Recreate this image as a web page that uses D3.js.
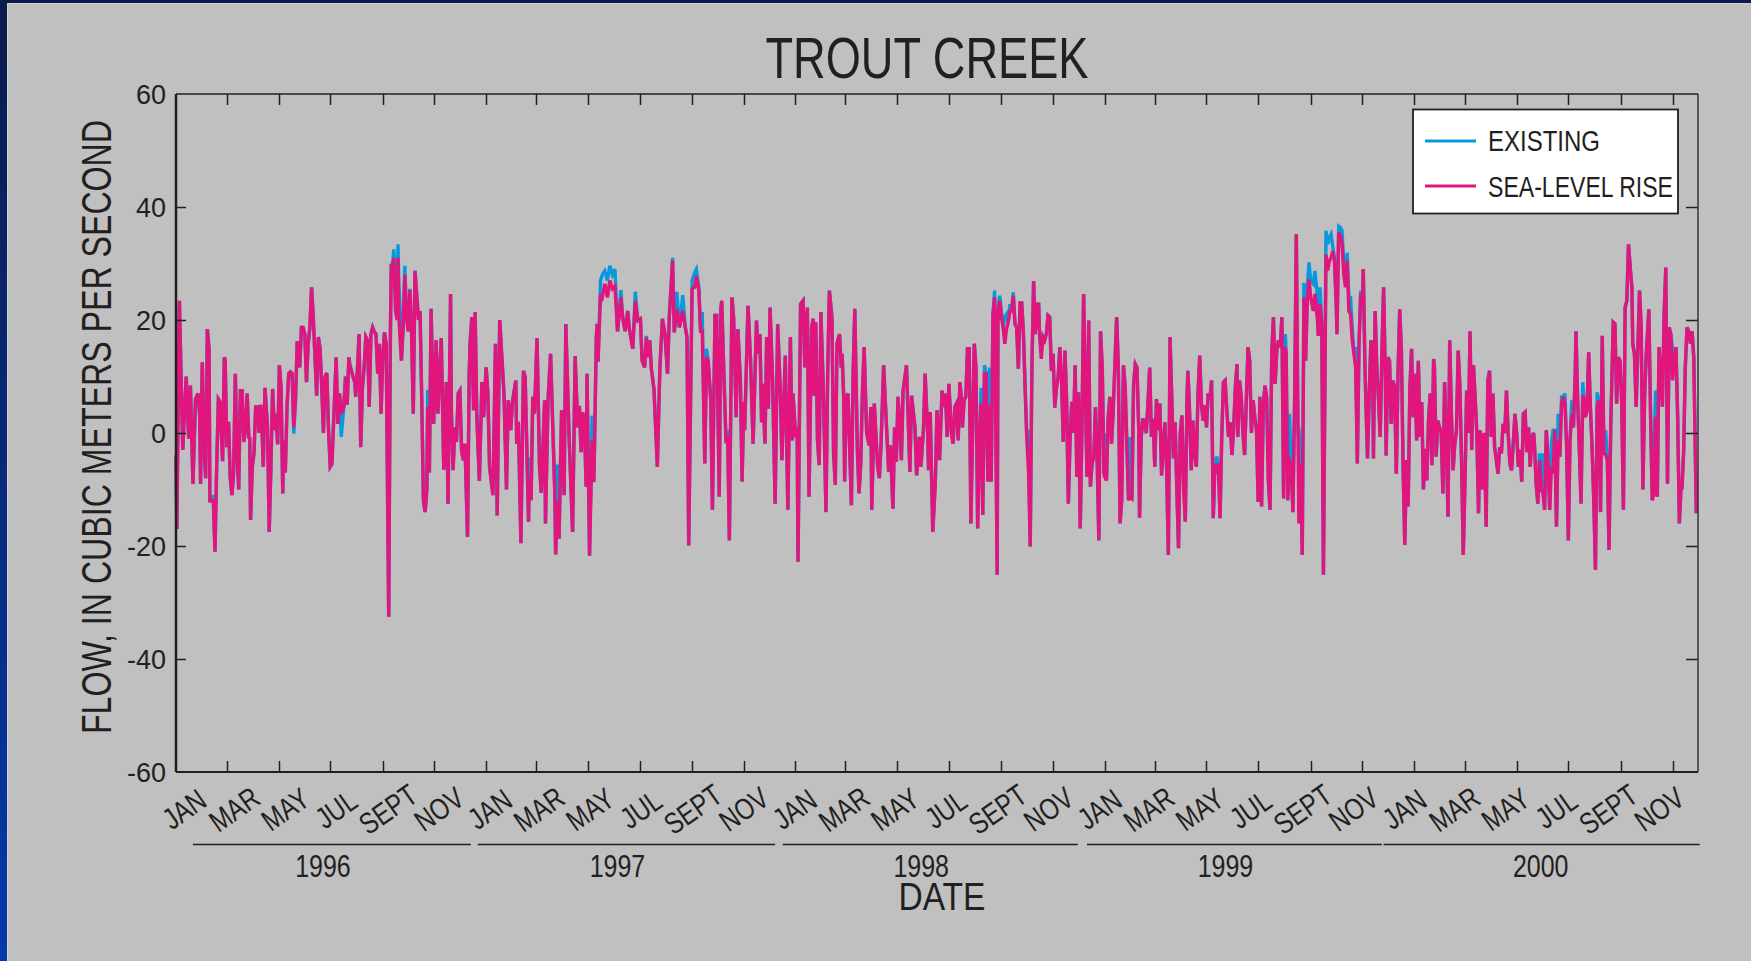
<!DOCTYPE html>
<html>
<head>
<meta charset="utf-8">
<script src="https://cdn.jsdelivr.net/npm/d3@7"></script>
<style>
  html, body { margin: 0; padding: 0; background: #c0c0c0; }
  svg { display: block; }
  text { font-family: "Liberation Sans", Arial, sans-serif; fill: #231f20; }
</style>
</head>
<body>
<svg id="chart" width="1751" height="961"></svg>
<script>
// readings: [day of year, EXISTING, SEA-LEVEL RISE] (third value left out where both lines sit together)
var flow1996 = [[0,-4],[1,-17],[4,23.4],[8,-3],[12,10],[15,-1],[17,8.4],[20,-9],[23,6],[26,7],[28,3],
  [29,-9],[31,12.5],[33,-2.5],[35,-8],[37,18.4],[39,15],[40,-12],[42,-12],[44,-11,-12],[46,-21],[48,-6],[50,6],[52,5.5],[54,-2],[55,-5],[57,13.4],[58,13],[60,-2.5],[62,2],[64,-8],[66,-11],[68,-7],[70,10.5],[72,-3.6],[74,-10],[76,7.5],[78,7.5],[80,-1.6],[82,0.5],[84,7],[86,-1],
  [87,-0.7],[88,-15.4],[90,-6],[92,-3.6],[94,4.6],[96,4.6],[98,0],[100,5],[101,2.8],[103,-6],[105,8],[108,1],[110,-17.5],[112,-6],[114,7.8],[116,0.5],[118,3.4],[120,-2],[122,12],[124,8],[126,-10.7],[127,-1.3],[129,-7],[131,4.6],[133,10.5],[135,10.8],[137,10.5],[139,-0.1,1],[141,5.8],[143,16],[145,16],
  [146,11.6],[148,18.7],[150,18.7],[152,17.5],[154,9],[156,15.8],[158,18.7],[160,25.8],[162,20.5],[164,13.4],[166,6.6],[168,17],[170,15],[172,8],[174,0],[176,10],[178,10.6],[180,0.5],[182,-6],[184,-5.5],[186,2],[189,13.4],[191,1.6],[193,7],[195,-0.7,3.4],[198,4.6],[200,10],[202,5],[204,13.4],
  [205,12.2],[207,11],[209,9.9],[211,9],[212,6.4],[214,11],[216,17.5],[218,-2.5],[220,8],[222,11.6],[224,17],[226,16.4],[228,4.6],[230,17.5],[232,18.7],[234,17.9],[236,17.5],[238,10.5],[240,15.8],[242,3.4],[244,13.4],[246,17.8],[248,15.8],[249,0],[251,-32.5],[253,17.5],[254,29.6],[256,30.5,29.6],[257,32.5,31],[259,25,21.6],[261,27,20],[262,33.4,31],
  [263,26,20.5],[265,20,15],[266,12.8],[268,18.7],[270,29.6,28],[272,20.5],[274,18],[276,25.5,25.3],[278,17.8],[280,3.4],[282,28.7],[284,24.6],[286,21,20],[288,21.6],[290,5.8],[292,-12],[294,-14],[296,-10],[297,7.6,4.6],[299,-7],[301,22],[304,1.6],[307,16.4],[309,3.4],[313,16.8],[316,-6.5],[319,9],
  [321,-12.5],[324,24.6],[325,3.4],[327,-6.6],[329,1],[331,-1.6],[333,7],[335,7.5],[337,-3],[339,-4.8],[341,-1.9],[344,-18.4],[346,10.5],[347,15.8],[349,20.5],[351,6.4,4],[353,21.4],[355,2.8],[358,-8.5],[361,9],[363,2.8]];

var flow1997 = [[0,11.6],[2,7],[4,-6],[8,-11],[11,15.8],[13,-14.6],[16,20],[21,7],[24,-10],[26,5.8],[29,0.5],[31,5.5],[35,9.3],[36,-1.9],[38,2],[41,-19.5],[44,11],[46,9.9],[50,-15.7],[51,-4.4,-8],[53,-11.9],[55,6.4],[57,3.4],[60,16.8],[63,-6],[65,-10.6],[67,-2.4],[69,5.8],[70,-16],
  [73,5.8],[76,14],[81,-10.6],[82,-21.5],[84,-5.6,-12],[86,-18.7],[89,4],[90,1.6],[92,-11],[94,19.3],[98,-1.3],[102,-17.5],[105,13.6],[108,1],[110,4.8],[112,-3.4],[114,3.7],[116,1],[118,-9.5],[119,10.5],[122,-21.7],[125,3.1,-1.3],[127,-8.7],[128,-1.3],
  [130,17],[131,19.3],[132,12.6],[135,27,24.6],[137,28,24],[140,28.7,26.4],[143,27,24],[146,29.6,27],[149,28,25.5],[152,29,26],[155,18],[159,25.3,24],[161,20.5],[164,18],[167,21.6],[169,18.4],[173,14.9],[176,25,23.4],[179,19.9],[182,20.2],[184,12.8],[187,11.6],
  [189,17.2,16.9],[191,13.4],[193,16.4],[195,11.3],[198,7.8],[202,-6],[205,11.6],[208,20.2],[211,17.5],[214,10.5],[216,20.2],[220,31,30.5],[222,17.8],[225,25,22],[228,18.7],[232,24.4,21.6],[235,18.7],[237,16.9],[239,-19.9],[243,27,25.5],[246,28.4,25.8],
  [248,29,27.8],[251,25.8,25.2],[253,18],[255,21.4,18],[258,-5.4],[260,14.9,13.4],[262,12.8],[265,5.8],[267,-13.6],[270,20.8],[272,20.8],[275,-11.3],[277,22.2],[278,23.4],[281,8],[283,-1.3],[285,0.5,-1],[287,-19],[290,24],[292,20.5],[295,2.8],[297,18.4],[300,9.3],[302,-8.6],[304,5.5],
  [305,0.5],[309,22.5],[312,12.8],[315,-1.9],[319,19.9],[321,14],[323,17.5],[325,1.9],[326,8.7],[329,-1.9],[331,17],[333,4.3],[335,22.2],[338,9.3],[341,-12.5],[344,19.3],[347,8],[349,-4.8],[353,13.7],[356,-13.6],[359,17],[361,-1.3],[362,7]];

var flow1998 = [[0,0],[2,0.5],[3,-22.8],[6,22.8],[9,23.4],[11,11.6],[14,22.2],[16,-11.3],[19,18.7],[21,20.2],[22,6.6],[24,19.6],[26,-1.3],[28,-5.7],[30,21.4],[33,7],[36,-14],[38,10.5],[40,25.2],[43,20.5],[45,-3.6],[47,-9.2],[49,15.8],[52,17.5],[54,11.6],
  [55,14],[57,6],[58,-8.6],[60,6.4],[62,7],[66,-12.8],[68,10.5],[70,22],[73,-2.8],[75,-10.7],[77,-5.4],[79,7],[81,15.2],[84,0],[87,-2.2],[89,4.6],[90,-13.6],[93,5.2],[97,-6],[99,-8],[101,-1.9],[104,12],[108,-0.7],[110,-6.9],[112,-2.2],
  [115,-13.4],[117,1],[119,-5.1],[121,6.4],[123,1.9],[125,-4.8],[127,7.5],[131,12],[135,-6.9],[137,6.6],[141,1],[143,-7.5],[146,-0.7],[148,-6],[151,0.5],[153,10.5],[156,0],[157,-6.6],[159,3.7],[162,-17.5],[165,-8.9],[167,4],[170,-4.8],[172,3.7],
  [173,7.5],[175,4.6],[177,7],[179,-0.7],[181,8.7],[184,0],[186,-1.9],[188,4.6],[190,5.2],[192,-1.3],[194,9],[196,5.8],[197,1],[199,5.8],[201,6.4],[203,14.9],[205,14.9],[207,-16],[209,0],[211,15.8],[213,11.6],[215,-16.9],[217,-2.5],[219,8,5.2],[221,-14.5],[223,12,10.5],[225,10.5],[227,-8.6],[229,11.6,4.9],
  [230,-7.8],[231,-8.6],[233,21],[235,25.2,24],[238,-25.1],[239,21.6],[241,24.3,23.4],[243,21.6,20.5],[245,18.7],[247,20.5,15.8],[249,21,18.4],[251,19.6],[253,22.8,21.6],[255,21.6],[257,24.9,24.3],[259,19.3],[261,18.7],[263,11.4],[265,23],[267,23],[269,17.5],[271,8],[273,-1],[275,0.5,-6.9],[277,-20.1],[279,11.6],[281,26.9],[283,17.5],[285,22.8],[287,22.8],
  [288,17.5],[290,14.6,13.1],[292,17],[294,16.4],[296,17.5],[298,20.8],[300,20.5],[302,11],[304,14],[306,4.5],[308,8],[310,10],[312,15.2],[314,9.3],[316,-1.6],[318,14.6],[320,5.5],[322,-12.5],[324,-1.3],[326,5.5],[328,0],[330,12],[332,-7.8],[334,7.2],[336,-16.9],[338,0],[340,24.6],[342,8],[344,-7.8],[346,19.9],
  [348,-9.5],[350,-5.4],[352,-4.2],[354,4.6],[356,-4.8],[358,-19],[360,18],[362,11.6],[364,-7.2]];

var flow1999 = [[0,0,-7.8],[2,-8.4],[4,2.8],[6,6.4],[8,-1.9],[10,4.3],[14,20.5],[16,11.6],[18,-16],[20,-11.9],[22,12],[24,8.4],[26,-1.9],[28,-11.9],[30,-0.7,-11.3],[32,-11.6],[34,8.7],[36,12.2],[38,11.6],[40,1],
  [41,-15],[43,-0.7],[45,2.6],[49,0],[51,5.5],[53,11.6],[55,-0.7],[57,2.5],[59,-6],[61,6],[63,0.5],[65,5.2],[67,-7.5],[69,-2.5],[71,1.9],[73,-6.6],[75,-21.6],[77,17],[79,6.4],[81,-4.5],[83,1.9],[85,-10],[87,-20.4],[89,0],[91,3.1],[93,-8,-10],[95,-15.7],[97,5.8],
  [98,11],[100,4],[102,-6.6],[104,2.2],[106,-3.6],[108,-6],[110,7],[112,13.7],[114,5.2],[116,2.2],[118,4.9],[120,1],[122,7],[124,6],[126,9.3],[128,-15.1],[130,-5.4],[132,-4.2,-7.2],[134,-5.4],[136,-15.1],[138,-0.7],[140,9],[142,9.3],[144,4],[146,-0.7],[148,1.9],[150,-3.9],[152,0.5],[154,8],[156,12.2],
  [157,-0.7],[159,9.3],[161,6.4],[163,0],[165,-3.9],[167,5.8],[169,15.2],[171,12.8],[173,0],[175,5.8],[177,2.8],[179,0.5],[181,-12.2],[183,6.4],[185,-13],[187,4.6],[189,8.4],[191,6.4],[193,-8.4],[195,-13.6],[197,14],[199,20.5],[201,8.7],[203,14.6],[205,16.4],[207,15.2],[209,20.5],[211,-11.6],[213,17.5,15.2],
  [214,14],[216,-11.9],[218,3.4,-4.8],[220,-5.4],[222,-14],[224,5.8],[226,35.2],[228,0],[229,1,-16],[231,-5.4],[233,-21.6],[235,26.6,24],[237,12.8],[239,25.8,23.4],[241,30.2,27.2],[243,26.9,24],[246,26.4,21.6],[248,28.7,24.6],[251,24,19.9],[252,17.2],[254,25.8,22.8],[256,19.3],[258,-25.1],[261,35.8,31.6],[263,33.4,28.7],[265,34.6,30.5],[267,35.2,31],[269,33,32.2],[271,31,30.5],[273,24,22.8],
  [274,17.5],[276,36.6,35.5],[278,36.4,34.9],[280,35.8,33.4],[282,30,28.1],[284,27.5,25.8],[286,31.9,30.5],[288,24,21.6],[290,24,21],[292,18.7,16.4],[294,14],[296,15.2,11.6],[298,-5.4],[300,15.8],[302,25.2,24.6],[304,22.8],[305,29],[307,11.6],[310,-4.5],[312,6.4],[314,16.4],[316,15.2],[317,-4.5],[319,21.6],[321,11.6],[323,5.8],[325,-0.7],[327,14],[329,25.8],[331,10.5],
  [332,-4],[334,13.4],[336,12.8],[338,1.6],[340,9.3],[342,8],[344,-7.2],[346,10.5],[348,21.9],[350,14.6],[352,-6],[354,-19.8],[356,-4.8],[358,-13],[360,8],[362,14.9],[364,2.8]];

var flow2000 = [[1,10.5],[3,-1.3],[5,12.8],[7,-0.7],[9,5.5],[11,-10],[13,-2.8],[15,-8.4],[17,2.2],[19,7],[21,-5.7],[23,13.1],
  [24,11.6],[26,-4.2],[28,2.2],[30,1],[32,0],[34,-10.7],[36,9],[38,-1.3],[40,-14.8],[42,16.4],[44,3.4],[46,-6.6],[48,-2],[50,0.5],[52,14.6],[54,8.5],[56,-5],[58,-21.6],[60,-8.9],[62,7.5],[64,0],[66,18],[68,-3],[70,12],[72,6.4],[74,0],[76,-14.2],[78,0.5],[80,-10],[82,0],
  [83,-1.3],[85,-16.6],[87,9.3],[89,11],[91,-0.7],[93,7],[95,-2.5],[97,-4.8],[99,-7.2],[101,-2.5],[103,-3.6],[105,1.6],[107,0],[109,7.5],[111,0],[113,-5.4],[115,-6.6],[117,-1.9],[119,3.4],[121,0],[123,-6],[125,-3],[127,-8.6],[129,3.4],[131,3.7],[133,-3.4],[135,1],[137,-6],[139,-0.7],[141,0],
  [142,-1.9],[144,-8.9],[146,-12.5],[148,-3.6,-4.8],[150,-10],[152,-3.6,-10.7],[154,-13.6],[156,0.5],[158,-4.8],[160,-13.6],[162,-1.9,-6],[164,0.5,-7.2],[166,0.5],[168,-16.6],[170,3.4,-1.3],[172,-4.2],[174,6.4,5.2],[176,6.4],[178,7,5.2],[180,-2.5],[182,-19],[184,-1.3],[186,5.8,3.4],[188,1],[190,9.9],[191,18],[193,5.8],[195,-3],[197,-12.5],[199,9,6.4],
  [200,6.4],[202,2.8],[204,4],[206,14.3],[208,4.6],[210,-2.5],[212,-11.9],[214,-24.2],[216,7.2,4.6],[218,5.8],[220,-14],[222,17.2],[224,-3.6],[226,0.5,-3.9],[228,-4.8],[230,-20.7],[232,1],[234,13.4],[235,19.6],[237,19.3],[239,5.2],[241,13.4],[243,12.8],[245,5.2],[247,-13.6],[249,22.2],[251,23.4],[253,33.4],[255,29.3],[257,25.8],
  [258,15.8],[260,14],[262,4.6],[264,14.6],[266,25.2],[268,18.7],[270,-10],[272,6.4],[274,14],[277,21.9],[279,3.4],[281,-11.9],[283,-3.6,-10.7],[285,7.5,2.8],[287,-11.3],[289,15.2],[291,11],[293,4.6],[295,21],[297,29.3],[299,-9],[301,18.7],[303,17.5],[305,14.6,9.3],[307,12.8],[309,15.2],[311,2.8],[313,-16],[315,-9.5],
  [316,-10],[318,-3.6],[320,11.6],[322,18.7],[324,18],[326,17,15.8],[328,18],[330,13.4],[333,-14.2]];

var years = [1996, 1997, 1998, 1999, 2000];
var monthNames = ['JAN', 'MAR', 'MAY', 'JUL', 'SEPT', 'NOV'];
var yTicks = [-60, -40, -20, 0, 20, 40, 60];
var seriesNames = ['EXISTING', 'SEA-LEVEL RISE'];
// year underlines under the month labels
var yearSpans = [['1996-01-21', '1996-12-14'], ['1996-12-22', '1997-12-08'], ['1997-12-17', '1998-11-30'],
                 ['1998-12-11', '1999-11-24'], ['1999-11-26', '2000-12-03']];

var W = 1751, H = 961;
var margin = { top: 94, right: 53, bottom: 189, left: 176 };
var colors = { existing: '#0a98dc', slr: '#e0167c', ink: '#231f20' };

var svg = d3.select('#chart');

// background + blue frame
var defs = svg.append('defs');
var grad = defs.append('linearGradient').attr('id', 'edge')
    .attr('x1', 0).attr('y1', 0).attr('x2', 0).attr('y2', 1);
grad.append('stop').attr('offset', '0%').attr('stop-color', '#0b1b4c');
grad.append('stop').attr('offset', '100%').attr('stop-color', '#0439aa');
svg.append('rect').attr('width', W).attr('height', H).attr('fill', '#c0c0c0');
svg.append('rect').attr('x', 0).attr('y', 0).attr('width', 7).attr('height', H).attr('fill', 'url(#edge)');
svg.append('rect').attr('x', 0).attr('y', 0).attr('width', W).attr('height', 3).attr('fill', '#0b1b4c');
svg.append('path').attr('d', 'M7.5,' + H + 'V3.5H' + W)
    .attr('fill', 'none').attr('stroke', '#d2d2d2').attr('stroke-width', 1);

// flatten data
var points = [];
[[1996, flow1996], [1997, flow1997], [1998, flow1998], [1999, flow1999], [2000, flow2000]].forEach(function (p) {
  var start = new Date(p[0], 0, 1);
  p[1].forEach(function (r) {
    points.push({ date: d3.timeDay.offset(start, r[0]), ex: r[1], slr: r.length > 2 ? r[2] : r[1] });
  });
});

// scales
var x0 = margin.left, x1 = W - margin.right, y0 = margin.top, y1 = H - margin.bottom;
var x = d3.scaleTime()
    .domain([new Date(1996, 0, 1), new Date(2000, 11, 1)])
    .range([x0, x1]);
var y = d3.scaleLinear().domain([-60, 60]).range([y1, y0]);
// month labels sit on a slightly tighter spacing than the ticks
var xLabel = d3.scaleTime()
    .domain([new Date(1996, 0, 1), new Date(2000, 10, 1)])
    .range([184, 1659]);

// data lines
var lineEx = d3.line().x(function (d) { return x(d.date) }).y(function (d) { return y(d.ex) });
var lineSlr = d3.line().x(function (d) { return x(d.date) }).y(function (d) { return y(d.slr) });
svg.append('path').datum(points).attr('d', lineEx)
    .attr('fill', 'none').attr('stroke', colors.existing).attr('stroke-width', 3.4);
svg.append('path').datum(points).attr('d', lineSlr)
    .attr('fill', 'none').attr('stroke', colors.slr).attr('stroke-width', 3.4);

// ticks
var monthTicks = x.ticks(d3.timeMonth.every(2)).filter(function (d) {
  return d > x.domain()[0] && d < x.domain()[1];
});
var ticks = svg.append('g').attr('stroke', colors.ink).attr('stroke-width', 1.5);
monthTicks.forEach(function (d) {
  var px = Math.round(x(d)) + 0.5;
  ticks.append('line').attr('x1', px).attr('x2', px).attr('y1', y0).attr('y2', y0 + 11);
  ticks.append('line').attr('x1', px).attr('x2', px).attr('y1', y1).attr('y2', y1 - 11);
});
yTicks.slice(1, -1).forEach(function (v) {
  var py = Math.round(y(v)) + 0.5;
  ticks.append('line').attr('x1', x0).attr('x2', x0 + 10).attr('y1', py).attr('y2', py);
  ticks.append('line').attr('x1', x1).attr('x2', x1 - 12).attr('y1', py).attr('y2', py);
});

// frame
var frame = svg.append('g').attr('stroke', colors.ink).attr('fill', 'none');
frame.append('line').attr('x1', x0).attr('x2', x1).attr('y1', y0).attr('y2', y0).attr('stroke-width', 1.6);
frame.append('line').attr('x1', x0).attr('x2', x1).attr('y1', y1).attr('y2', y1).attr('stroke-width', 1.8);
frame.append('line').attr('x1', x1).attr('x2', x1).attr('y1', y0).attr('y2', y1).attr('stroke-width', 1.3);
frame.append('line').attr('x1', x0).attr('x2', x0).attr('y1', y0).attr('y2', y1).attr('stroke-width', 2.5);

// y tick labels
svg.append('g').selectAll('text').data(yTicks).enter().append('text')
    .attr('x', 166).attr('y', function (d) { return y(d) })
    .attr('dy', '0.36em')
    .attr('text-anchor', 'end')
    .style('font-size', '27px')
    .text(function (d) { return d });

function squeeze(sel, k) {
  sel.each(function () {
    var L = this.getComputedTextLength();
    d3.select(this).attr('textLength', L * k).attr('lengthAdjust', 'spacingAndGlyphs');
  });
}

// month labels
var labelDates = d3.timeMonth.every(2).range(new Date(1996, 0, 1), new Date(2000, 11, 1));
svg.append('g').selectAll('text').data(labelDates).enter().append('text')
    .attr('transform', function (d) { return 'translate(' + xLabel(d) + ',809) rotate(-35)' })
    .attr('text-anchor', 'middle')
    .attr('dy', '0.36em')
    .style('font-size', '30px')
    .text(function (d) { return monthNames[d.getMonth() / 2] })
    .call(squeeze, 0.8);

// year underlines and labels
var parse = d3.timeParse('%Y-%m-%d');
var yearG = svg.append('g');
yearSpans.forEach(function (s, i) {
  var a = x(parse(s[0])), b = x(parse(s[1]));
  yearG.append('line').attr('x1', a).attr('x2', b).attr('y1', 844.5).attr('y2', 844.5)
      .attr('stroke', colors.ink).attr('stroke-width', 1.6);
  yearG.append('text').attr('x', (a + b) / 2 - (i < 4 ? 9 : 1)).attr('y', 877)
      .attr('text-anchor', 'middle').style('font-size', '32px')
      .text(years[i]);
});
yearG.selectAll('text').call(squeeze, 0.78);

// titles
svg.append('text').attr('x', 927).attr('y', 78).attr('text-anchor', 'middle')
    .style('font-size', '57px').attr('textLength', 323).attr('lengthAdjust', 'spacingAndGlyphs')
    .text('TROUT CREEK');
svg.append('text').attr('x', 942).attr('y', 910).attr('text-anchor', 'middle')
    .style('font-size', '39px').attr('textLength', 87).attr('lengthAdjust', 'spacingAndGlyphs')
    .text('DATE');
svg.append('text').attr('transform', 'translate(111,427) rotate(-90)').attr('text-anchor', 'middle')
    .style('font-size', '42px').attr('textLength', 614).attr('lengthAdjust', 'spacingAndGlyphs')
    .text('FLOW, IN CUBIC METERS PER SECOND');

// legend
var legend = svg.append('g');
legend.append('rect').attr('x', 1413).attr('y', 109.5).attr('width', 265).attr('height', 104)
    .attr('fill', '#ffffff').attr('stroke', colors.ink).attr('stroke-width', 1.8);
[[colors.existing, 141, 151, 112], [colors.slr, 186, 197, 185]].forEach(function (r, i) {
  legend.append('line').attr('x1', 1425).attr('x2', 1476).attr('y1', r[1]).attr('y2', r[1])
      .attr('stroke', r[0]).attr('stroke-width', 3);
  legend.append('text').attr('x', 1488).attr('y', r[2]).style('font-size', '30px')
      .attr('textLength', r[3]).attr('lengthAdjust', 'spacingAndGlyphs')
      .text(seriesNames[i]);
});
</script>
</body>
</html>
